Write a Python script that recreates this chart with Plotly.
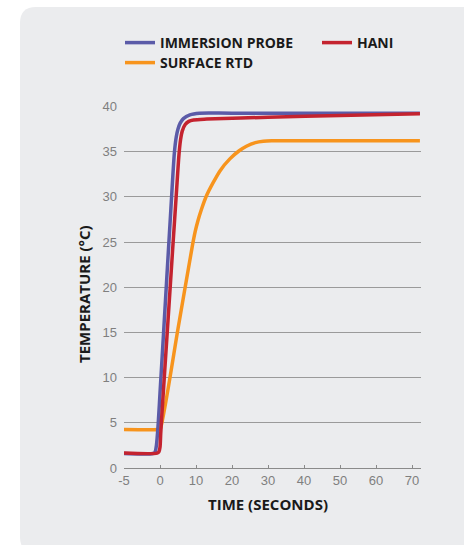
import plotly.graph_objects as go

# Sensor readings: time in seconds, temperature in °C
probe_t = [-5, -1.0, -0.7, -0.5, -0.25, 0, 1, 2, 3, 4, 4.5, 5, 5.6, 6.5, 8.3, 11, 20, 72.2]
probe_y = [1.6, 1.6, 1.75, 2.5, 4.9, 8.3, 15.0, 21.8, 28.5, 34.9, 36.6, 37.5, 38.15, 38.65, 39.07, 39.25, 39.25, 39.25]

hani_t = [-5, -0.4, -0.15, 0, 0.2, 0.5, 1.5, 2.5, 3.5, 4.5, 5.3, 5.7, 6.2, 7, 8, 9.3, 13, 30, 50, 72.2]
hani_y = [1.65, 1.65, 1.8, 2.3, 3.8, 5.8, 11.9, 18.0, 24.1, 30.1, 34.8, 36.3, 37.3, 38.0, 38.35, 38.5, 38.6, 38.8, 39.0, 39.2]

rtd_t = [-5, -0.1, 0.1, 5, 9.0, 9.8, 10.5, 11.5, 13, 14.8, 16.7, 19.4, 22, 24, 26.5, 28.7, 31, 72.2]
rtd_y = [4.26, 4.26, 4.3, 15.4, 24.6, 26.2, 27.3, 28.6, 30.2, 31.6, 32.9, 34.2, 35.1, 35.6, 36.0, 36.15, 36.2, 36.2]

tick_seconds = [-5, 0, 10, 20, 30, 40, 50, 60, 70]
y_ticks = [0, 5, 10, 15, 20, 25, 30, 35, 40]


def axis_x(t):
    # the pre-start interval (negative seconds) is drawn at double scale
    return 2 * t if t < 0 else t


def axis_xs(ts):
    return [axis_x(t) for t in ts]


PANEL = "#ebecee"
BLUE = "#5b5ba8"
RED = "#c4232f"
ORANGE = "#f7941d"
TITLE_FONT = dict(family="Open Sans", size=15, color="#1a1a1a")

W, H = 464, 545
L, R, T, B = 124, 43, 106, 77
pw, ph = W - L - R, H - T - B


def px(x):
    return (x - L) / pw


def py(y):
    return (H - B - y) / ph


fig = go.Figure()
# draw order: orange underneath, then blue, then red on top
fig.add_trace(go.Scatter(
    x=axis_xs(rtd_t), y=rtd_y, name="SURFACE RTD", mode="lines",
    line=dict(color=ORANGE, width=3.5, shape="spline", smoothing=0.6),
    legend="legend3", hoverinfo="skip",
))
fig.add_trace(go.Scatter(
    x=axis_xs(probe_t), y=probe_y, name="IMMERSION PROBE", mode="lines",
    line=dict(color=BLUE, width=3.5, shape="spline", smoothing=0.8),
    legend="legend", hoverinfo="skip",
))
fig.add_trace(go.Scatter(
    x=axis_xs(hani_t), y=hani_y, name="HANI", mode="lines",
    line=dict(color=RED, width=3.5, shape="spline", smoothing=0.8),
    legend="legend2", hoverinfo="skip",
))

# rounded background panel
x0, x1, y0, y1 = px(20), px(475), py(7), py(553)
rx, ry = 16 / pw, 16 / ph
panel_path = (
    f"M {x0+rx},{y0} L {x1},{y0} L {x1},{y1} L {x0+rx},{y1} "
    f"Q {x0},{y1} {x0},{y1+ry} L {x0},{y0-ry} Q {x0},{y0} {x0+rx},{y0} Z"
)

legend_common = dict(
    orientation="h", xanchor="left", yanchor="top",
    font=dict(family="Open Sans", size=14, color="#1a1a1a", weight="bold"),
    bgcolor="rgba(0,0,0,0)", itemclick=False, itemdoubleclick=False,
)

fig.update_layout(
    width=W, height=H,
    margin=dict(l=L, r=R, t=T, b=B),
    paper_bgcolor="white",
    plot_bgcolor="rgba(0,0,0,0)",
    shapes=[dict(type="path", path=panel_path, xref="paper", yref="paper",
                 fillcolor=PANEL, line=dict(width=0), layer="below")],
    showlegend=True,
    legend=dict(x=px(120), y=py(27), **legend_common),
    legend2=dict(x=px(317), y=py(27), **legend_common),
    legend3=dict(x=px(120), y=py(47), **legend_common),
    xaxis=dict(
        range=[-10, 72.5], tickvals=axis_xs(tick_seconds),
        ticktext=[str(t) for t in tick_seconds],
        showgrid=False, zeroline=False,
        showline=True, linecolor="#8a8a8a", linewidth=1,
        ticks="inside", ticklen=3, tickcolor="#8a8a8a",
        tickfont=dict(family="Liberation Sans", size=13, color="#7f7f7f"),
    ),
    yaxis=dict(
        range=[0, 40.05], tickvals=y_ticks,
        showgrid=True, gridcolor="#9a9a9a", gridwidth=1,
        zeroline=False, showline=False, ticks="",
        ticklabelstandoff=6,
        tickfont=dict(family="Liberation Sans", size=13, color="#7f7f7f"),
    ),
    annotations=[
        dict(text="<b>TIME (SECONDS)</b>", xref="paper", yref="paper",
             x=px(268), y=py(516), showarrow=False, font=TITLE_FONT),
        dict(text="<b>TEMPERATURE (°C)</b>", xref="paper", yref="paper",
             x=px(72), y=py(294), showarrow=False, textangle=-90,
             font=TITLE_FONT),
    ],
)

fig.write_html("out.html")
